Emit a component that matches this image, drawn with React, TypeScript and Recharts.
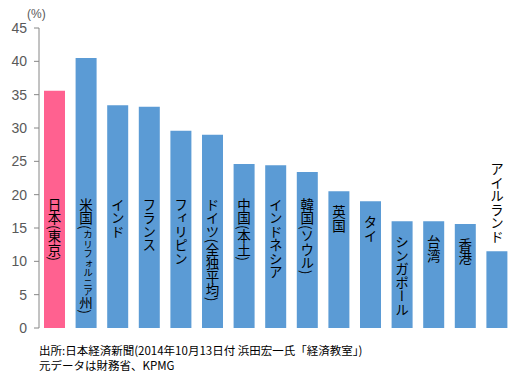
import React from 'react';
import { BarChart, Bar, XAxis, YAxis, Cell, LabelList } from 'recharts';

// 法人実効税率（%）
const categories = [
  '日本(東京)',
  '米国(カリフォルニア州)',
  'インド',
  'フランス',
  'フィリピン',
  'ドイツ(全独平均)',
  '中国(本土)',
  'インドネシア',
  '韓国(ソウル)',
  '英国',
  'タイ',
  'シンガポール',
  '台湾',
  '香港',
  'アイルランド',
];
const taxRates = [35.6, 40.5, 33.4, 33.2, 29.6, 29.0, 24.6, 24.4, 23.4, 20.5, 19.0, 16.0, 16.0, 15.6, 11.5];
const yTicks = [0, 5, 10, 15, 20, 25, 30, 35, 40, 45];
const highlighted = '日本(東京)';

const data = categories.map((name, i) => ({ name, value: taxRates[i] }));

const BLUE = '#5B9BD5';
const PINK = '#FF6190';
const CJK = '"Noto Sans CJK JP", "Noto Sans", sans-serif';

// rough length of a vertical label in em (ascii chars are rotated and narrow)
const emLength = (s: string) =>
  Array.from(s).reduce((n, ch) => n + (ch.charCodeAt(0) < 256 ? 0.4 : 1), 0);

// vertical label drawn inside the bar (or above it when it doesn't fit)
const VerticalLabel = (props: any) => {
  const { x, y, width, height, value, index } = props;
  const name = categories[index];
  const fs = 13.5;
  const cx = x + width / 2;
  const bottom = y + height;
  const ppu = height / value;
  const start = Math.max(bottom - 19.5 * ppu, y + 14);
  const tooLong = emLength(name) * fs > bottom - start - 4;
  // long kana run inside the brackets gets squeezed when the bar is tall enough
  const m = name.match(/^(.*\()([ァ-ヶー]+)(.*)$/);
  const squeeze = tooLong && m && height > 150;
  const outside = tooLong && !squeeze;
  return (
    <text
      x={cx}
      y={outside ? y - 8 : start}
      textAnchor={outside ? 'end' : 'start'}
      fontSize={fs}
      fontFamily={CJK}
      fill="#000"
      style={{ writingMode: 'vertical-rl' } as any}
    >
      {squeeze && m ? (
        <>
          <tspan>{m[1]}</tspan>
          <tspan fontSize={9.5} dx={2}>{m[2]}</tspan>
          <tspan dx={-2}>{m[3]}</tspan>
        </>
      ) : (
        name
      )}
    </text>
  );
};

export default function App() {
  return (
    <div style={{ position: 'absolute', left: 0, top: 0, width: 523, height: 377, background: '#fff' }}>
      <div
        style={{
          position: 'absolute',
          left: 27,
          top: 7,
          fontSize: 12,
          fontFamily: '"Liberation Sans", Arial, sans-serif',
          color: '#595959',
        }}
      >
        (%)
      </div>
      <BarChart
        width={523}
        height={340}
        data={data}
        margin={{ top: 28, right: 10, bottom: 12, left: 0 }}
      >
        <XAxis dataKey="name" height={0} tick={false} tickLine={false} axisLine={{ stroke: '#868686' }} />
        <YAxis
          width={39}
          domain={[0, 45]}
          ticks={yTicks}
          interval={0}
          tickSize={5}
          tickMargin={7}
          axisLine={{ stroke: '#868686' }}
          tickLine={{ stroke: '#868686' }}
          tick={{ fill: '#595959', fontSize: 14, fontFamily: '"Liberation Sans", Arial, sans-serif' }}
        />
        <Bar dataKey="value" barSize={21} isAnimationActive={false}>
          {data.map((d) => (
            <Cell key={d.name} fill={d.name === highlighted ? PINK : BLUE} />
          ))}
          <LabelList dataKey="value" content={<VerticalLabel />} />
        </Bar>
      </BarChart>
      <div
        style={{
          position: 'absolute',
          left: 39,
          top: 343,
          fontSize: 11.5,
          lineHeight: '15px',
          fontFamily: CJK,
          color: '#000',
        }}
      >
        <div>出所:日本経済新聞(2014年10月13日付 浜田宏一氏「経済教室」)</div>
        <div>元データは財務省、KPMG</div>
      </div>
    </div>
  );
}
